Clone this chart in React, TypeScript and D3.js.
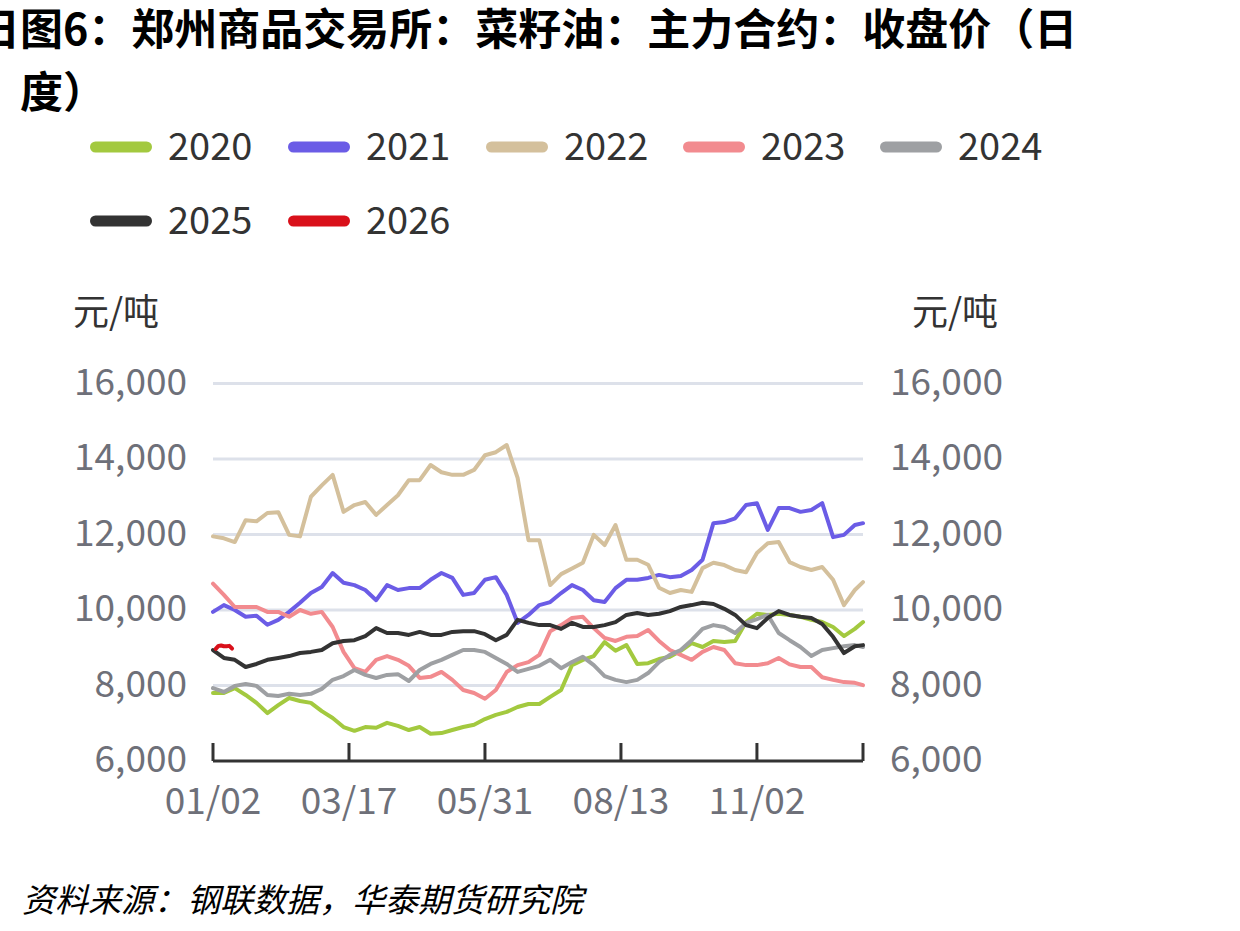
import React from "react";
import * as d3 from "d3";

const FONT = "'Noto Sans CJK SC', 'Noto Sans', sans-serif";

const yearNames = ["2020", "2021", "2022", "2023", "2024", "2025", "2026"];
const yearColors = ["#a3c93f", "#6b5ce6", "#d4c09c", "#f28b8f", "#9ea0a3", "#333333", "#d9101a"];

// trading-day axis: 240 points, sampled every 4 trading days
const TOTAL_DAYS = 240;
const STEP = 4;
const xTickIndex = [0, 50, 100, 150, 200];
const xTickLabels = ["01/02", "03/17", "05/31", "08/13", "11/02"];
const yTicks = [6000, 8000, 10000, 12000, 14000, 16000];

const s2020 = [7800,7800,7930,7750,7540,7270,7480,7670,7590,7540, 7320,7140,6900,6800,6900,6880,7010,6930,6820,6900, 6720,6740,6820,6900,6960,7110,7220,7300,7430,7510, 7510,7700,7880,8540,8680,8780,9150,8920,9070,8570, 8590,8700,8760,8920,9120,9020,9180,9150,9180,9680, 9900,9870,9900,9870,9820,9740,9680,9550,9310,9500, 9680];
const s2021 = [9950,10130,10000,9820,9850,9610,9740,9950,10190,10450, 10610,10980,10720,10660,10530,10260,10660,10530,10580,10580, 10800,10980,10850,10400,10450,10800,10870,10400,9660,9870, 10130,10210,10450,10660,10530,10260,10210,10580,10800,10800, 10850,10930,10870,10900,11060,11330,12300,12330,12430,12780, 12830,12120,12700,12700,12600,12650,12830,11930,11990,12250, 12300];
const s2022 = [11950,11900,11800,12380,12350,12570,12590,11990,11950,13000, 13300,13580,12600,12780,12860,12520,12780,13040,13440,13440, 13840,13650,13580,13580,13710,14100,14180,14370,13500,11850, 11850,10660,10950,11100,11250,11990,11720,12250,11330,11330, 11200,10590,10450,10530,10480,11110,11250,11190,11060,11000, 11510,11770,11800,11270,11140,11060,11140,10800,10130,10530, 10740];
const s2023 = [10700,10400,10080,10080,10080,9950,9950,9820,10000,9900, 9950,9550,8890,8460,8360,8680,8780,8680,8520,8200, 8230,8360,8150,7880,7800,7650,7880,8360,8540,8620, 8810,9440,9600,9790,9820,9520,9260,9180,9290,9310, 9470,9180,8940,8810,8680,8890,9020,8940,8590,8540, 8540,8590,8730,8560,8490,8490,8220,8150,8090,8070, 8010];
const s2024 = [7930,7830,7990,8040,7990,7750,7720,7780,7750,7780, 7910,8150,8250,8410,8280,8200,8280,8300,8120,8410, 8570,8680,8810,8940,8940,8890,8730,8570,8360,8440, 8520,8680,8460,8620,8760,8540,8250,8150,8090,8150, 8330,8620,8810,8940,9200,9500,9600,9550,9390,9660, 9760,9870,9390,9200,9020,8780,8940,8990,9040,9070, 9020];
const s2025 = [8940,8730,8680,8490,8570,8680,8730,8780,8860,8890, 8940,9120,9180,9200,9310,9520,9390,9390,9340,9420, 9340,9340,9420,9440,9440,9360,9200,9340,9740,9660, 9600,9600,9500,9660,9550,9550,9600,9680,9870,9920, 9870,9900,9970,10080,10130,10190,10160,10030,9870,9600, 9520,9790,9970,9870,9820,9790,9630,9290,8860,9040, 9070];
const idx2026 = [1, 2, 3, 4, 5, 6, 7];
const s2026 = [8970, 9050, 9060, 9040, 9040, 9050, 8980];

const sampled = (vals: number[]) =>
  vals.map((v, i) => ({ i: Math.min(i * STEP, TOTAL_DAYS - 1), v }));

const seriesData = [
  sampled(s2020),
  sampled(s2021),
  sampled(s2022),
  sampled(s2023),
  sampled(s2024),
  sampled(s2025),
  s2026.map((v, k) => ({ i: idx2026[k], v })),
];

const PL = 213, PR = 863, PT = 383.5, PB = 761;

export default function App() {
  const x = d3.scaleLinear().domain([0, TOTAL_DAYS - 1]).range([PL, PR]);
  const y = d3.scaleLinear().domain([6000, 16000]).range([PB, PT]);
  const line = d3.line<{ i: number; v: number }>().x((d) => x(d.i)).y((d) => y(d.v));

  const legendX = [90, 288, 486, 683, 880];
  const legendRowY = [147, 221];

  return (
    <div style={{ position: "absolute", left: 0, top: 0 }}>
      <svg width={1240} height={931} style={{ display: "block", background: "#fff" }} fontFamily={FONT}>
        {/* title */}
        <text x={-23} y={45} fontSize={43} fontWeight={700} fill="#000">日图6：郑州商品交易所：菜籽油：主力合约：收盘价（日</text>
        <text x={20} y={108} fontSize={43} fontWeight={700} fill="#000">度）</text>

        {/* legend */}
        {yearNames.map((name, k) => {
          const row = k < 5 ? 0 : 1;
          const col = k < 5 ? k : k - 5;
          const lx = legendX[col];
          const ly = legendRowY[row];
          return (
            <g key={name}>
              <rect x={lx} y={ly - 5.5} width={62} height={11} rx={5.5} fill={yearColors[k]} />
              <text x={lx + 78} y={ly + 13} fontSize={38} fill="#333">{name}</text>
            </g>
          );
        })}

        {/* units */}
        <text x={73} y={325} fontSize={36} fill="#333">元/吨</text>
        <text x={912} y={325} fontSize={36} fill="#333">元/吨</text>

        {/* grid */}
        {yTicks.filter((t) => t > 6000).map((t) => (
          <line key={t} x1={PL} x2={PR} y1={y(t)} y2={y(t)} stroke="#dde1ea" strokeWidth={3} />
        ))}

        {/* y labels */}
        {yTicks.map((t) => (
          <g key={"yl" + t}>
            <text x={187} y={y(t) + 11} textAnchor="end" fontSize={37} fill="#6e7079">{d3.format(",")(t)}</text>
            <text x={890} y={y(t) + 11} textAnchor="start" fontSize={37} fill="#6e7079">{d3.format(",")(t)}</text>
          </g>
        ))}

        {/* lines */}
        {seriesData.map((d, k) => (
          <path key={k} d={line(d) || ""} fill="none" stroke={yearColors[k]} strokeWidth={4} strokeLinejoin="round" strokeLinecap="round" />
        ))}

        {/* x axis */}
        <line x1={PL} x2={PR} y1={PB} y2={PB} stroke="#333" strokeWidth={3} />
        {[...xTickIndex, TOTAL_DAYS - 1].map((t) => (
          <line key={"xt" + t} x1={x(t)} x2={x(t)} y1={PB} y2={PB - 18} stroke="#333" strokeWidth={3} />
        ))}
        {xTickIndex.map((t, k) => (
          <text key={"xl" + t} x={x(t)} y={814} textAnchor="middle" fontSize={37} fill="#6e7079">{xTickLabels[k]}</text>
        ))}

        {/* footer */}
        <text x={22} y={912} fontSize={33} fontStyle="italic" fill="#000">资料来源：钢联数据，华泰期货研究院</text>
      </svg>
    </div>
  );
}
